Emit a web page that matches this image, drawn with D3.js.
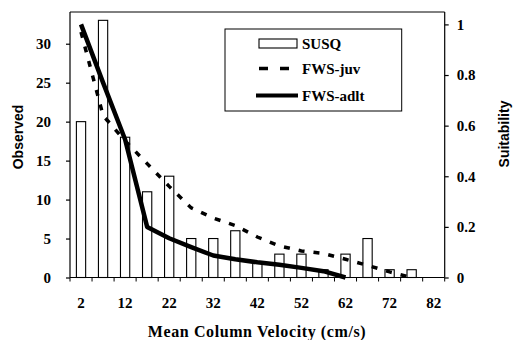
<!DOCTYPE html>
<html>
<head>
<meta charset="utf-8">
<script src="https://cdn.jsdelivr.net/npm/d3@7"></script>
<style>
  html, body { margin: 0; padding: 0; background: #fff; }
  svg { display: block; }
</style>
</head>
<body>
<svg id="chart" width="518" height="340"></svg>
<script>
// ---- data ----
const velocities = [2, 7, 12, 17, 22, 27, 32, 37, 42, 47, 52, 57, 62, 67, 72, 77, 82];
const observedSUSQ = [20, 33, 18, 11, 13, 5, 5, 6, 2, 3, 3, 1, 3, 5, 1, 1, 0];
const juvVelocities = [2, 7, 12, 17, 22, 27, 32, 37, 42, 47, 52, 57, 62, 67, 72, 77];
const suitJuv = [0.97, 0.64, 0.54, 0.45, 0.36, 0.275, 0.235, 0.205, 0.16, 0.125, 0.105, 0.095, 0.072, 0.048, 0.022, 0];
const adltVelocities = [2, 7, 12, 17, 22, 27, 32, 37, 42, 47, 52, 57, 62];
const suitAdlt = [1.0, 0.77, 0.545, 0.2, 0.155, 0.12, 0.087, 0.072, 0.06, 0.05, 0.038, 0.025, 0];
const xTickLabels = [2, 12, 22, 32, 42, 52, 62, 72, 82];
const leftTicks = [0, 5, 10, 15, 20, 25, 30];
const rightTicks = [0, 0.2, 0.4, 0.6, 0.8, 1];

// ---- layout ----
const L = 70, R = 444.7, T = 12, B = 277.5;
const serif = "'Liberation Serif', 'Times New Roman', serif";
const narrow = "'Liberation Sans Narrow', 'Liberation Sans', Arial, sans-serif";

const svg = d3.select("#chart");

const x = d3.scaleBand().domain(velocities).range([L, R]).padding(0);
const yL = d3.scaleLinear().domain([0, 34.07]).range([B, T]);
const yR = d3.scaleLinear().domain([0, 1.049]).range([B, T]);
const cx = v => x(v) + x.bandwidth() / 2;
const barW = x.bandwidth() * 0.42;

// bars
svg.append("g").selectAll("rect")
  .data(velocities.map((v, i) => ({ v, o: observedSUSQ[i] })).filter(d => d.o > 0))
  .join("rect")
  .attr("x", d => cx(d.v) - barW / 2)
  .attr("y", d => yL(d.o))
  .attr("width", barW)
  .attr("height", d => yL(0) - yL(d.o))
  .attr("fill", "#fff")
  .attr("stroke", "#000")
  .attr("stroke-width", 1.1);

// lines
const line = d3.line().x(d => cx(d[0])).y(d => yR(d[1]));
svg.append("path")
  .datum(juvVelocities.map((v, i) => [v, suitJuv[i]]))
  .attr("d", line)
  .attr("fill", "none")
  .attr("stroke", "#000")
  .attr("stroke-width", 3.5)
  .attr("stroke-dasharray", "6,9");
svg.append("path")
  .datum(adltVelocities.map((v, i) => [v, suitAdlt[i]]))
  .attr("d", line)
  .attr("fill", "none")
  .attr("stroke", "#000")
  .attr("stroke-width", 4.5)
  .attr("stroke-linejoin", "round");

// frame
svg.append("line").attr("x1", L).attr("x2", R).attr("y1", T).attr("y2", T)
  .attr("stroke", "#000").attr("stroke-width", 1);

// left axis
const gl = svg.append("g").attr("transform", `translate(${L},0)`)
  .call(d3.axisLeft(yL).tickValues(leftTicks).tickSize(4).tickPadding(15).tickFormat(d3.format("d")));
gl.select(".domain").attr("d", `M0,${T}V${B}`);
// right axis
const gr = svg.append("g").attr("transform", `translate(${R},0)`)
  .call(d3.axisRight(yR).tickValues(rightTicks).tickSize(4).tickPadding(8).tickFormat(d => d === 0 || d === 1 ? String(d) : d3.format(".1f")(d)));
gr.select(".domain").attr("d", `M0,${T}V${B}`);

// bottom axis (labels every other category; ticks between categories)
const gb = svg.append("g").attr("transform", `translate(0,${B})`)
  .call(d3.axisBottom(x).tickValues(xTickLabels).tickSize(0).tickPadding(20));
gb.select(".domain").attr("d", `M${L},0H${R}`);
svg.append("g").selectAll("line")
  .data(velocities.map(v => x(v)).concat([R]))
  .join("line")
  .attr("x1", d => d).attr("x2", d => d)
  .attr("y1", B).attr("y2", B + 4)
  .attr("stroke", "#000").attr("stroke-width", 1);

svg.selectAll(".tick text")
  .attr("font-family", serif).attr("font-weight", "bold").attr("font-size", 15).attr("fill", "#000");
svg.selectAll(".domain, .tick line").attr("stroke", "#000").attr("stroke-width", 1.2);

// axis titles
svg.append("text")
  .attr("transform", "translate(23,137) rotate(-90)")
  .attr("text-anchor", "middle")
  .attr("font-family", narrow).attr("font-weight", "bold").attr("font-size", 14)
  .text("Observed");
svg.append("text")
  .attr("transform", "translate(509,134) rotate(-90)")
  .attr("text-anchor", "middle")
  .attr("font-family", narrow).attr("font-weight", "bold").attr("font-size", 14)
  .text("Suitability");
svg.append("text")
  .attr("x", 257).attr("y", 337)
  .attr("text-anchor", "middle")
  .attr("font-family", serif).attr("font-weight", "bold").attr("font-size", 16)
  .attr("letter-spacing", "0.6px")
  .text("Mean Column Velocity (cm/s)");

// legend
const lg = svg.append("g");
lg.append("rect").attr("x", 225).attr("y", 29).attr("width", 176.7).attr("height", 82)
  .attr("fill", "#fff").attr("stroke", "#000").attr("stroke-width", 1);
lg.append("rect").attr("x", 259).attr("y", 39).attr("width", 38).attr("height", 9)
  .attr("fill", "#fff").attr("stroke", "#000").attr("stroke-width", 1.1);
lg.append("line").attr("x1", 259).attr("x2", 297).attr("y1", 68.5).attr("y2", 68.5)
  .attr("stroke", "#000").attr("stroke-width", 3.5).attr("stroke-dasharray", "9,12");
lg.append("line").attr("x1", 256).attr("x2", 298).attr("y1", 95.5).attr("y2", 95.5)
  .attr("stroke", "#000").attr("stroke-width", 4);
const legendLabels = ["SUSQ", "FWS-juv", "FWS-adlt"];
const legendY = [49, 74, 101];
lg.selectAll("text.lbl").data(legendLabels).join("text")
  .attr("class", "lbl")
  .attr("x", 302).attr("y", (d, i) => legendY[i])
  .attr("font-family", serif).attr("font-weight", "bold").attr("font-size", 15)
  .text(d => d);
</script>
</body>
</html>
